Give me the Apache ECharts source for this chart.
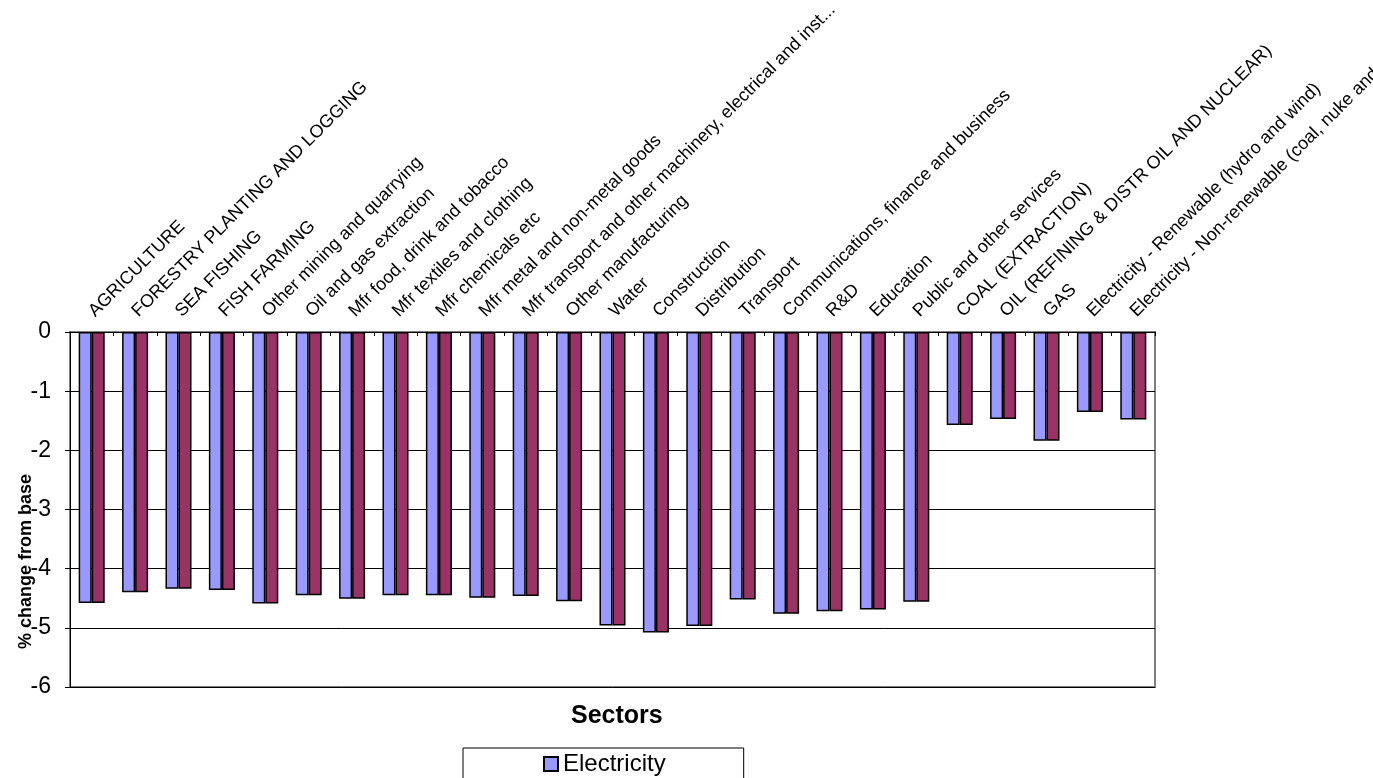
<!DOCTYPE html>
<html>
<head>
<meta charset="utf-8">
<script src="https://cdn.jsdelivr.net/npm/echarts@6/dist/echarts.min.js"></script>
<style>
html,body{margin:0;padding:0;background:#fff;}
#chart{width:1373px;height:778px;}
</style>
</head>
<body>
<div id="chart"></div>
<script>
const categories = [
  "AGRICULTURE",
  "FORESTRY PLANTING AND LOGGING",
  "SEA FISHING",
  "FISH FARMING",
  "Other mining and quarrying",
  "Oil and gas extraction",
  "Mfr food, drink and tobacco",
  "Mfr textiles and clothing",
  "Mfr chemicals etc",
  "Mfr metal and non-metal goods",
  "Mfr transport and other machinery, electrical and inst...",
  "Other manufacturing",
  "Water",
  "Construction",
  "Distribution",
  "Transport",
  "Communications, finance and business",
  "R&D",
  "Education",
  "Public and other services",
  "COAL (EXTRACTION)",
  "OIL (REFINING & DISTR OIL AND NUCLEAR)",
  "GAS",
  "Electricity - Renewable (hydro and wind)",
  "Electricity - Non-renewable (coal, nuke and gas)"
];
const electricity = [-4.58, -4.40, -4.34, -4.36, -4.59, -4.45, -4.51, -4.45, -4.45, -4.49, -4.46, -4.55, -4.96, -5.08, -4.97, -4.52, -4.76, -4.72, -4.69, -4.56, -1.57, -1.47, -1.84, -1.35, -1.48];
const series2 = [-4.58, -4.40, -4.34, -4.36, -4.59, -4.45, -4.51, -4.45, -4.45, -4.49, -4.46, -4.55, -4.96, -5.08, -4.97, -4.52, -4.76, -4.72, -4.69, -4.56, -1.57, -1.47, -1.84, -1.35, -1.48];
const yTicks = { min: -6, max: 0, interval: 1 };

const FONT = "'Liberation Sans', Arial, sans-serif";
const chart = echarts.init(document.getElementById('chart'), null, { renderer: 'canvas' });
chart.setOption({
  animation: false,
  backgroundColor: '#ffffff',
  title: {
    text: 'Sectors',
    left: 571,
    top: 704,
    padding: 0,
    textStyle: { fontFamily: FONT, fontSize: 25, fontWeight: 'bold', color: '#000' }
  },
  legend: {
    data: ['Electricity'],
    left: 463,
    top: 748,
    padding: [4, 78, 20, 80],
    borderColor: '#000',
    borderWidth: 1,
    itemWidth: 14,
    itemHeight: 14,
    itemGap: 10,
    icon: 'rect',
    textStyle: { fontFamily: FONT, fontSize: 24, color: '#000' }
  },
  grid: {
    left: 70, right: 218, top: 332, bottom: 91,
    containLabel: false,
    outerBoundsMode: 'none',
    show: true,
    borderColor: '#808080',
    borderWidth: 2,
    backgroundColor: 'transparent'
  },
  xAxis: {
    type: 'category',
    data: categories,
    position: 'top',
    axisLine: { show: true, lineStyle: { color: '#000', width: 1 } },
    axisTick: { show: true, inside: true, length: 4, lineStyle: { color: '#000' } },
    axisLabel: {
      interval: 0,
      rotate: 45,
      margin: 18,
      fontFamily: FONT,
      fontSize: 18,
      color: '#000'
    },
    splitLine: { show: false }
  },
  yAxis: {
    type: 'value',
    min: yTicks.min,
    max: yTicks.max,
    interval: yTicks.interval,
    name: '% change from base',
    nameLocation: 'middle',
    nameRotate: 90,
    nameGap: 35,
    nameMoveOverlap: false,
    nameTextStyle: {
      fontFamily: FONT, fontSize: 18, fontWeight: 'bold', color: '#000',
      padding: [0, 104, 0, 0]
    },
    axisLine: { show: true, lineStyle: { color: '#000', width: 1 } },
    axisTick: { show: true, inside: false, length: 5, lineStyle: { color: '#000' } },
    axisLabel: { margin: 19, fontFamily: FONT, fontSize: 23, color: '#000' },
    splitLine: { show: true, lineStyle: { color: '#000', width: 1 } }
  },
  series: [
    {
      name: 'Electricity',
      type: 'bar',
      data: electricity,
      barGap: '0%',
      barCategoryGap: '40%',
      itemStyle: { color: '#9999FF', borderColor: '#000', borderWidth: 1.5 }
    },
    {
      name: 'Series 2',
      type: 'bar',
      data: series2,
      barGap: '0%',
      barCategoryGap: '40%',
      itemStyle: { color: '#993366', borderColor: '#000', borderWidth: 1.5 }
    }
  ]
});
</script>
</body>
</html>
